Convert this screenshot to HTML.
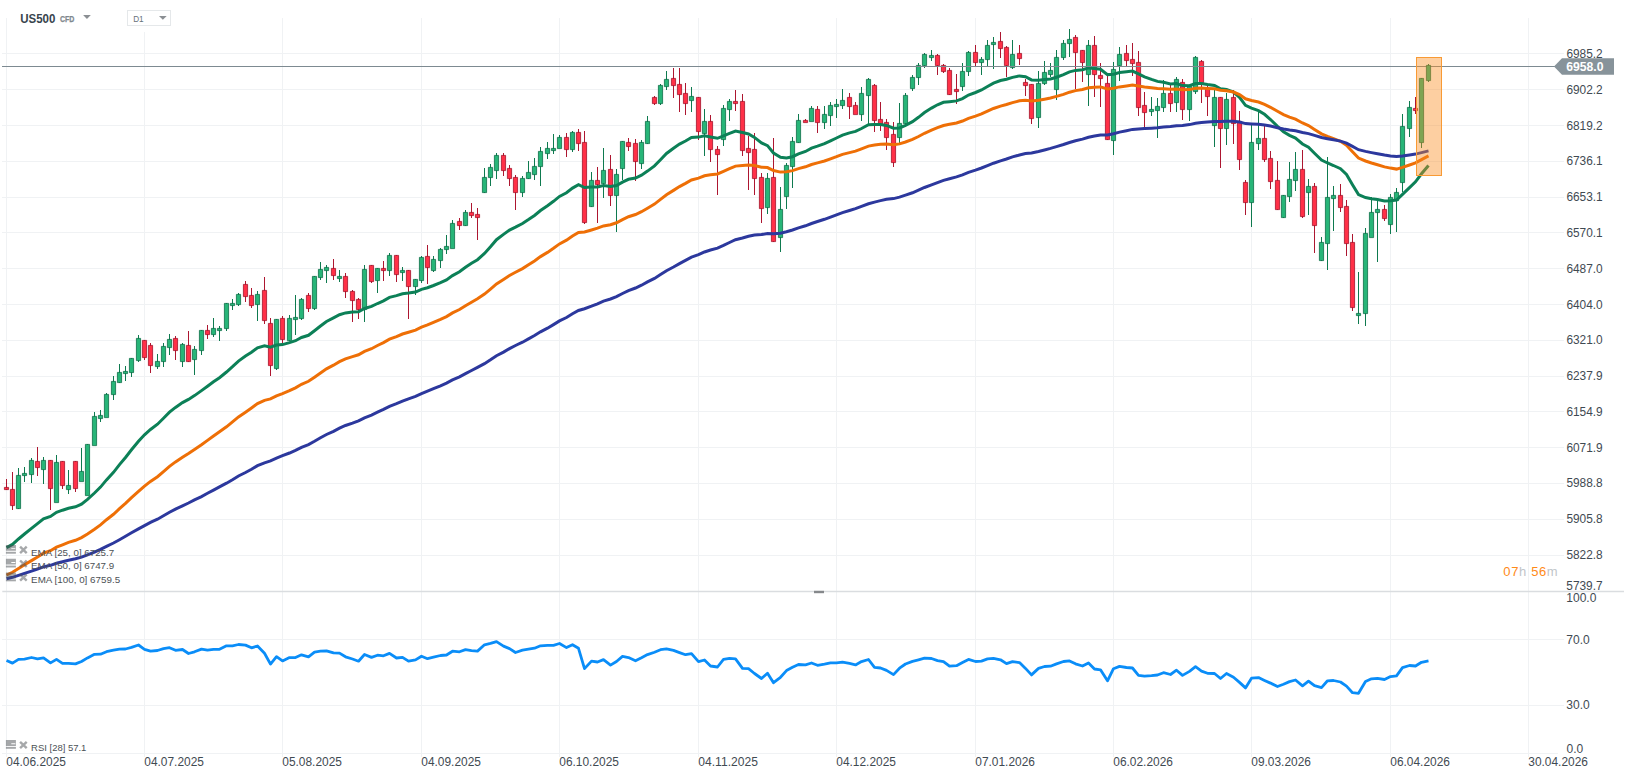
<!DOCTYPE html>
<html lang="en"><head><meta charset="utf-8"><title>US500 CFD D1 chart</title>
<style>html,body{margin:0;padding:0;background:#fff}body{width:1626px;height:779px;position:relative;overflow:hidden;font-family:"Liberation Sans",sans-serif}</style></head>
<body>
<svg width="1626" height="779" viewBox="0 0 1626 779" style="position:absolute;left:0;top:0;font-family:'Liberation Sans',sans-serif">
<path d="M2 53.5H1564M2 89.5H1564M2 125.5H1564M2 161.5H1564M2 197.5H1564M2 232.5H1564M2 268.5H1564M2 304.5H1564M2 340.5H1564M2 376.5H1564M2 411.5H1564M2 447.5H1564M2 483.5H1564M2 519.5H1564M2 555.5H1564M2 639.5H1564M2 705.5H1564M2 753.5H1558M6.5 18V757M144.5 32V757M282.5 18V757M421.5 18V757M559.5 18V757M698.5 18V757M836.5 18V757M975.5 18V757M1113.5 18V757M1251.5 18V757M1390.5 18V757M1528.5 18V757" stroke="#f0f2f4" stroke-width="1" fill="none" shape-rendering="crispEdges"/>
<path d="M2.3 591.5H1624" stroke="#dadde0" stroke-width="1.4" fill="none"/>
<rect x="814" y="590.8" width="10" height="2.4" fill="#85888b"/>
<path d="M18.5 468.0V509.0M24.5 467.0V482.0M31.5 458.0V483.0M43.5 457.0V484.0M56.5 455.0V502.0M68.5 470.0V494.0M81.5 448.0V481.0M87.5 444.0V495.0M94.5 412.0V445.0M100.5 410.0V422.0M106.5 393.0V417.0M113.5 376.0V400.0M119.5 364.0V383.0M125.5 366.0V381.0M131.5 358.0V377.0M138.5 335.0V362.0M157.5 354.0V369.0M163.5 343.0V367.0M169.5 334.0V355.0M182.5 343.0V367.0M194.5 346.0V375.0M201.5 330.0V355.0M213.5 318.0V337.0M219.5 326.0V341.0M226.5 303.0V331.0M232.5 299.0V310.0M238.5 293.0V306.0M257.5 291.0V321.0M276.5 319.0V370.0M289.5 315.0V341.0M295.5 295.0V335.0M301.5 298.0V320.0M314.5 276.0V310.0M320.5 262.0V280.0M326.5 265.0V283.0M339.5 270.0V282.0M364.5 265.0V322.0M377.5 268.0V293.0M389.5 253.0V276.0M402.5 267.0V281.0M415.5 279.0V295.0M421.5 256.0V283.0M433.5 256.0V272.0M440.5 248.0V268.0M446.5 235.0V254.0M452.5 220.0V248.0M465.5 210.0V226.0M484.5 168.0V193.0M490.5 164.0V186.0M496.5 153.0V179.0M522.5 176.0V197.0M528.5 161.0V179.0M534.5 158.0V180.0M540.5 147.0V186.0M547.5 142.0V159.0M553.5 134.0V154.0M559.5 135.0V148.0M572.5 131.0V152.0M591.5 172.0V207.0M603.5 148.0V198.0M616.5 169.0V232.0M622.5 141.0V180.0M641.5 140.0V169.0M647.5 116.0V144.0M660.5 84.0V105.0M666.5 71.0V90.0M691.5 87.0V112.0M704.5 109.0V156.0M723.5 105.0V146.0M729.5 99.0V121.0M767.5 173.0V214.0M780.5 187.0V252.0M786.5 163.0V209.0M792.5 137.0V188.0M798.5 114.0V143.0M811.5 106.0V121.0M824.5 106.0V129.0M830.5 102.0V126.0M836.5 99.0V118.0M842.5 89.0V109.0M861.5 87.0V121.0M868.5 78.0V124.0M899.5 103.0V145.0M905.5 93.0V124.0M912.5 75.0V91.0M918.5 63.0V85.0M924.5 53.0V68.0M931.5 50.0V61.0M962.5 63.0V91.0M968.5 51.0V76.0M981.5 57.0V75.0M987.5 40.0V66.0M993.5 37.0V69.0M1012.5 40.0V69.0M1038.5 71.0V128.0M1044.5 61.0V85.0M1050.5 63.0V77.0M1056.5 50.0V100.0M1063.5 40.0V60.0M1069.5 29.0V57.0M1088.5 40.0V106.0M1113.5 62.0V155.0M1119.5 47.0V81.0M1151.5 97.0V116.0M1157.5 98.0V138.0M1163.5 80.0V112.0M1176.5 77.0V112.0M1189.5 85.0V121.0M1195.5 56.0V94.0M1214.5 90.0V147.0M1226.5 93.0V145.0M1251.5 125.0V227.0M1258.5 112.0V150.0M1283.5 195.0V218.0M1289.5 162.0V202.0M1295.5 152.0V191.0M1308.5 179.0V215.0M1321.5 237.0V261.0M1327.5 157.0V270.0M1333.5 186.0V231.0M1358.5 272.0V324.0M1365.5 228.0V326.0M1371.5 197.0V237.0M1377.5 201.0V262.0M1390.5 194.0V234.0M1396.5 188.0V232.0M1402.5 114.0V192.0M1409.5 101.0V137.0" stroke="#0e7a4f" stroke-width="1" fill="none"/>
<path d="M6.5 479.0V490.0M12.5 472.0V510.0M37.5 447.0V476.0M50.5 460.0V510.0M62.5 461.0V489.0M75.5 461.0V492.0M144.5 340.0V360.0M150.5 343.0V373.0M175.5 336.0V360.0M188.5 331.0V362.0M207.5 325.0V339.0M245.5 281.0V302.0M251.5 288.0V308.0M264.5 277.0V324.0M270.5 318.0V376.0M282.5 316.0V343.0M308.5 293.0V312.0M333.5 259.0V280.0M345.5 273.0V298.0M352.5 290.0V322.0M358.5 298.0V319.0M371.5 265.0V283.0M383.5 261.0V281.0M396.5 255.0V282.0M408.5 270.0V319.0M427.5 245.0V284.0M459.5 218.0V230.0M471.5 203.0V218.0M477.5 208.0V240.0M503.5 153.0V176.0M509.5 165.0V186.0M515.5 175.0V210.0M566.5 133.0V157.0M578.5 129.0V151.0M584.5 131.0V224.0M597.5 167.0V223.0M610.5 155.0V206.0M628.5 138.0V151.0M635.5 139.0V181.0M654.5 96.0V105.0M673.5 68.0V98.0M679.5 68.0V112.0M685.5 83.0V115.0M698.5 97.0V140.0M710.5 115.0V162.0M717.5 146.0V195.0M735.5 90.0V111.0M742.5 94.0V156.0M748.5 136.0V190.0M754.5 133.0V195.0M761.5 173.0V223.0M773.5 138.0V242.0M805.5 119.0V122.0M817.5 106.0V133.0M849.5 93.0V119.0M855.5 102.0V114.0M874.5 84.0V132.0M880.5 102.0V131.0M886.5 119.0V150.0M893.5 122.0V167.0M937.5 54.0V75.0M943.5 64.0V73.0M949.5 68.0V95.0M956.5 74.0V104.0M975.5 45.0V66.0M1000.5 32.0V58.0M1006.5 46.0V77.0M1019.5 45.0V65.0M1025.5 79.0V96.0M1031.5 84.0V124.0M1075.5 35.0V89.0M1082.5 50.0V82.0M1094.5 36.0V97.0M1100.5 63.0V107.0M1107.5 75.0V140.0M1126.5 45.0V66.0M1132.5 43.0V76.0M1138.5 51.0V116.0M1144.5 92.0V128.0M1170.5 85.0V112.0M1182.5 79.0V120.0M1201.5 60.0V103.0M1207.5 84.0V116.0M1220.5 97.0V168.0M1233.5 90.0V144.0M1239.5 111.0V170.0M1245.5 180.0V215.0M1264.5 126.0V162.0M1270.5 151.0V189.0M1277.5 161.0V210.0M1302.5 150.0V218.0M1314.5 183.0V253.0M1340.5 184.0V212.0M1346.5 200.0V256.0M1352.5 234.0V311.0M1384.5 205.0V221.0M1415.5 97.0V114.0" stroke="#ad1630" stroke-width="1" fill="none"/>
<path d="M16.4 475.4h4.2V508.6h-4.2zM22.4 473.4h4.2V475.6h-4.2zM29.4 460.4h4.2V474.6h-4.2zM41.4 460.4h4.2V469.6h-4.2zM54.4 462.4h4.2V502.6h-4.2zM66.4 485.4h4.2V489.6h-4.2zM79.4 471.4h4.2V481.6h-4.2zM85.4 444.4h4.2V495.6h-4.2zM92.4 416.4h4.2V445.6h-4.2zM98.4 415.4h4.2V418.6h-4.2zM104.4 394.4h4.2V417.6h-4.2zM111.4 381.4h4.2V394.6h-4.2zM117.4 372.4h4.2V382.6h-4.2zM123.4 371.4h4.2V373.6h-4.2zM129.4 358.4h4.2V372.6h-4.2zM136.4 338.4h4.2V360.6h-4.2zM155.4 361.4h4.2V366.6h-4.2zM161.4 346.4h4.2V361.6h-4.2zM167.4 339.4h4.2V347.6h-4.2zM180.4 344.4h4.2V361.6h-4.2zM192.4 349.4h4.2V359.6h-4.2zM199.4 330.4h4.2V350.6h-4.2zM211.4 328.4h4.2V334.6h-4.2zM217.4 328.4h4.2V330.6h-4.2zM224.4 303.4h4.2V328.6h-4.2zM230.4 303.4h4.2V305.6h-4.2zM236.4 294.4h4.2V304.6h-4.2zM255.4 294.4h4.2V304.6h-4.2zM274.4 319.4h4.2V368.6h-4.2zM287.4 318.4h4.2V340.6h-4.2zM293.4 317.4h4.2V319.6h-4.2zM299.4 299.4h4.2V318.6h-4.2zM312.4 276.4h4.2V308.6h-4.2zM318.4 269.4h4.2V277.6h-4.2zM324.4 267.4h4.2V270.6h-4.2zM337.4 276.4h4.2V278.6h-4.2zM362.4 269.4h4.2V309.6h-4.2zM375.4 268.4h4.2V280.6h-4.2zM387.4 255.4h4.2V270.6h-4.2zM400.4 270.4h4.2V272.6h-4.2zM413.4 279.4h4.2V286.6h-4.2zM419.4 257.4h4.2V280.6h-4.2zM431.4 259.4h4.2V270.6h-4.2zM438.4 249.4h4.2V260.6h-4.2zM444.4 246.4h4.2V249.6h-4.2zM450.4 223.4h4.2V248.6h-4.2zM463.4 212.4h4.2V225.6h-4.2zM482.4 177.4h4.2V192.6h-4.2zM488.4 167.4h4.2V177.6h-4.2zM494.4 155.4h4.2V170.6h-4.2zM520.4 178.4h4.2V192.6h-4.2zM526.4 172.4h4.2V178.6h-4.2zM532.4 166.4h4.2V174.6h-4.2zM538.4 151.4h4.2V166.6h-4.2zM545.4 148.4h4.2V153.6h-4.2zM551.4 148.4h4.2V150.6h-4.2zM557.4 137.4h4.2V148.6h-4.2zM570.4 132.4h4.2V149.6h-4.2zM589.4 180.4h4.2V206.6h-4.2zM601.4 170.4h4.2V183.6h-4.2zM614.4 174.4h4.2V195.6h-4.2zM620.4 141.4h4.2V168.6h-4.2zM639.4 142.4h4.2V163.6h-4.2zM645.4 121.4h4.2V143.6h-4.2zM658.4 85.4h4.2V103.6h-4.2zM664.4 79.4h4.2V86.6h-4.2zM689.4 96.4h4.2V100.6h-4.2zM702.4 121.4h4.2V133.6h-4.2zM721.4 108.4h4.2V139.6h-4.2zM727.4 101.4h4.2V109.6h-4.2zM765.4 178.4h4.2V207.6h-4.2zM778.4 209.4h4.2V237.6h-4.2zM784.4 165.4h4.2V196.6h-4.2zM790.4 141.4h4.2V166.6h-4.2zM796.4 120.4h4.2V142.6h-4.2zM809.4 108.4h4.2V121.6h-4.2zM822.4 114.4h4.2V122.6h-4.2zM828.4 105.4h4.2V115.6h-4.2zM834.4 104.4h4.2V106.6h-4.2zM840.4 100.4h4.2V105.6h-4.2zM859.4 93.4h4.2V114.6h-4.2zM866.4 79.4h4.2V95.6h-4.2zM897.4 123.4h4.2V137.6h-4.2zM903.4 95.4h4.2V123.6h-4.2zM910.4 77.4h4.2V88.6h-4.2zM916.4 65.4h4.2V77.6h-4.2zM922.4 54.4h4.2V65.6h-4.2zM929.4 55.4h4.2V57.6h-4.2zM960.4 71.4h4.2V86.6h-4.2zM966.4 52.4h4.2V71.6h-4.2zM979.4 59.4h4.2V62.6h-4.2zM985.4 45.4h4.2V59.6h-4.2zM991.4 42.4h4.2V44.6h-4.2zM1010.4 54.4h4.2V67.6h-4.2zM1036.4 83.4h4.2V117.6h-4.2zM1042.4 72.4h4.2V83.6h-4.2zM1048.4 70.4h4.2V74.6h-4.2zM1054.4 57.4h4.2V89.6h-4.2zM1061.4 43.4h4.2V57.6h-4.2zM1067.4 39.4h4.2V43.6h-4.2zM1086.4 45.4h4.2V74.6h-4.2zM1111.4 69.4h4.2V140.6h-4.2zM1117.4 54.4h4.2V65.6h-4.2zM1149.4 109.4h4.2V111.6h-4.2zM1155.4 106.4h4.2V110.6h-4.2zM1161.4 93.4h4.2V107.6h-4.2zM1174.4 79.4h4.2V102.6h-4.2zM1187.4 86.4h4.2V109.6h-4.2zM1193.4 57.4h4.2V91.6h-4.2zM1212.4 97.4h4.2V125.6h-4.2zM1224.4 99.4h4.2V128.6h-4.2zM1249.4 142.4h4.2V202.6h-4.2zM1256.4 138.4h4.2V143.6h-4.2zM1281.4 195.4h4.2V217.6h-4.2zM1287.4 179.4h4.2V196.6h-4.2zM1293.4 169.4h4.2V180.6h-4.2zM1306.4 186.4h4.2V192.6h-4.2zM1319.4 242.4h4.2V260.6h-4.2zM1325.4 197.4h4.2V243.6h-4.2zM1331.4 195.4h4.2V198.6h-4.2zM1356.4 313.4h4.2V315.6h-4.2zM1363.4 233.4h4.2V313.6h-4.2zM1369.4 212.4h4.2V237.6h-4.2zM1375.4 209.4h4.2V212.6h-4.2zM1388.4 197.4h4.2V224.6h-4.2zM1394.4 192.4h4.2V200.6h-4.2zM1400.4 126.4h4.2V182.6h-4.2zM1407.4 107.4h4.2V128.6h-4.2z" stroke="#0c6f47" stroke-width="0.8" fill="#27b578"/>
<path d="M4.4 487.4h4.2V489.6h-4.2zM10.4 489.4h4.2V505.6h-4.2zM35.4 461.4h4.2V467.6h-4.2zM48.4 460.4h4.2V488.6h-4.2zM60.4 461.4h4.2V485.6h-4.2zM73.4 461.4h4.2V488.6h-4.2zM142.4 340.4h4.2V357.6h-4.2zM148.4 345.4h4.2V365.6h-4.2zM173.4 338.4h4.2V350.6h-4.2zM186.4 345.4h4.2V361.6h-4.2zM205.4 330.4h4.2V334.6h-4.2zM243.4 284.4h4.2V296.6h-4.2zM249.4 295.4h4.2V305.6h-4.2zM262.4 290.4h4.2V320.6h-4.2zM268.4 323.4h4.2V365.6h-4.2zM280.4 318.4h4.2V339.6h-4.2zM306.4 295.4h4.2V308.6h-4.2zM331.4 268.4h4.2V275.6h-4.2zM343.4 276.4h4.2V291.6h-4.2zM350.4 291.4h4.2V300.6h-4.2zM356.4 299.4h4.2V309.6h-4.2zM369.4 265.4h4.2V281.6h-4.2zM381.4 268.4h4.2V270.6h-4.2zM394.4 255.4h4.2V274.6h-4.2zM406.4 270.4h4.2V286.6h-4.2zM425.4 256.4h4.2V267.6h-4.2zM457.4 221.4h4.2V225.6h-4.2zM469.4 212.4h4.2V215.6h-4.2zM475.4 214.4h4.2V217.6h-4.2zM501.4 155.4h4.2V170.6h-4.2zM507.4 168.4h4.2V178.6h-4.2zM513.4 177.4h4.2V192.6h-4.2zM564.4 137.4h4.2V149.6h-4.2zM576.4 132.4h4.2V143.6h-4.2zM582.4 142.4h4.2V222.6h-4.2zM595.4 180.4h4.2V184.6h-4.2zM608.4 169.4h4.2V195.6h-4.2zM626.4 142.4h4.2V146.6h-4.2zM633.4 143.4h4.2V161.6h-4.2zM652.4 97.4h4.2V103.6h-4.2zM671.4 78.4h4.2V85.6h-4.2zM677.4 84.4h4.2V94.6h-4.2zM683.4 93.4h4.2V103.6h-4.2zM696.4 97.4h4.2V131.6h-4.2zM708.4 121.4h4.2V149.6h-4.2zM715.4 149.4h4.2V154.6h-4.2zM733.4 101.4h4.2V103.6h-4.2zM740.4 101.4h4.2V150.6h-4.2zM746.4 148.4h4.2V152.6h-4.2zM752.4 149.4h4.2V178.6h-4.2zM759.4 177.4h4.2V208.6h-4.2zM771.4 177.4h4.2V241.6h-4.2zM803.4 120.4h4.2V122.6h-4.2zM815.4 109.4h4.2V122.6h-4.2zM847.4 97.4h4.2V106.6h-4.2zM853.4 105.4h4.2V114.6h-4.2zM872.4 85.4h4.2V120.6h-4.2zM878.4 119.4h4.2V124.6h-4.2zM884.4 122.4h4.2V137.6h-4.2zM891.4 134.4h4.2V162.6h-4.2zM935.4 55.4h4.2V65.6h-4.2zM941.4 65.4h4.2V71.6h-4.2zM947.4 70.4h4.2V94.6h-4.2zM954.4 89.4h4.2V91.6h-4.2zM973.4 52.4h4.2V62.6h-4.2zM998.4 41.4h4.2V48.6h-4.2zM1004.4 47.4h4.2V65.6h-4.2zM1017.4 53.4h4.2V58.6h-4.2zM1023.4 82.4h4.2V85.6h-4.2zM1029.4 84.4h4.2V118.6h-4.2zM1073.4 37.4h4.2V52.6h-4.2zM1080.4 50.4h4.2V62.6h-4.2zM1092.4 45.4h4.2V74.6h-4.2zM1098.4 75.4h4.2V78.6h-4.2zM1105.4 83.4h4.2V139.6h-4.2zM1124.4 53.4h4.2V60.6h-4.2zM1130.4 59.4h4.2V63.6h-4.2zM1136.4 62.4h4.2V107.6h-4.2zM1142.4 105.4h4.2V112.6h-4.2zM1168.4 93.4h4.2V103.6h-4.2zM1180.4 82.4h4.2V109.6h-4.2zM1199.4 61.4h4.2V82.6h-4.2zM1205.4 88.4h4.2V96.6h-4.2zM1218.4 97.4h4.2V128.6h-4.2zM1231.4 97.4h4.2V123.6h-4.2zM1237.4 121.4h4.2V159.6h-4.2zM1243.4 182.4h4.2V202.6h-4.2zM1262.4 138.4h4.2V159.6h-4.2zM1268.4 158.4h4.2V181.6h-4.2zM1275.4 180.4h4.2V209.6h-4.2zM1300.4 169.4h4.2V216.6h-4.2zM1312.4 186.4h4.2V225.6h-4.2zM1338.4 195.4h4.2V207.6h-4.2zM1344.4 206.4h4.2V243.6h-4.2zM1350.4 242.4h4.2V307.6h-4.2zM1382.4 209.4h4.2V218.6h-4.2zM1413.4 108.4h4.2V110.6h-4.2z" stroke="#a3122a" stroke-width="0.8" fill="#ff3047"/>
<path d="M6.5 547.6L12.5 544.4L18.5 539.0L24.5 534.0L31.5 528.3L37.5 523.6L43.5 518.8L50.5 516.4L56.5 512.3L62.5 510.2L68.5 508.3L75.5 506.8L81.5 504.1L87.5 499.4L94.5 493.0L100.5 487.1L106.5 479.9L113.5 472.3L119.5 464.6L125.5 457.5L131.5 449.8L138.5 441.3L144.5 434.8L150.5 429.5L157.5 424.2L163.5 418.3L169.5 412.2L175.5 407.4L182.5 402.6L188.5 399.4L194.5 395.6L201.5 390.6L207.5 386.2L213.5 381.8L219.5 377.7L226.5 372.0L232.5 366.7L238.5 361.1L245.5 356.1L251.5 352.3L257.5 347.8L264.5 345.7L270.5 347.2L276.5 345.1L282.5 344.6L289.5 342.6L295.5 340.7L301.5 337.5L308.5 335.3L314.5 330.7L320.5 326.0L326.5 321.5L333.5 317.9L339.5 314.7L345.5 312.9L352.5 312.0L358.5 311.8L364.5 308.5L371.5 306.4L377.5 303.5L383.5 300.9L389.5 297.4L396.5 295.6L402.5 293.7L408.5 293.1L415.5 292.1L421.5 289.4L427.5 287.7L433.5 285.5L440.5 282.7L446.5 279.9L452.5 275.6L459.5 271.7L465.5 267.2L471.5 263.2L477.5 259.7L484.5 253.4L490.5 246.8L496.5 239.7L503.5 234.4L509.5 230.1L515.5 227.2L522.5 223.5L528.5 219.6L534.5 215.5L540.5 210.5L547.5 205.8L553.5 201.3L559.5 196.4L566.5 192.8L572.5 188.1L578.5 184.7L584.5 187.6L591.5 187.1L597.5 186.9L603.5 185.6L610.5 186.4L616.5 185.5L622.5 182.1L628.5 179.3L635.5 178.0L641.5 175.2L647.5 171.1L654.5 165.9L660.5 159.7L666.5 153.5L673.5 148.2L679.5 144.1L685.5 141.0L691.5 137.5L698.5 137.1L704.5 135.8L710.5 136.9L717.5 138.3L723.5 135.9L729.5 133.3L735.5 131.0L742.5 132.5L748.5 134.0L754.5 137.4L761.5 142.9L767.5 145.6L773.5 153.0L780.5 157.3L786.5 157.9L792.5 156.7L798.5 153.9L805.5 151.5L811.5 148.1L817.5 146.2L824.5 143.7L830.5 140.8L836.5 138.0L842.5 135.1L849.5 132.9L855.5 131.4L861.5 128.5L868.5 124.7L874.5 124.4L880.5 124.4L886.5 125.4L893.5 128.2L899.5 127.9L905.5 125.4L912.5 121.7L918.5 117.3L924.5 112.5L931.5 108.1L937.5 104.8L943.5 102.3L949.5 101.7L956.5 100.9L962.5 98.6L968.5 95.0L975.5 92.5L981.5 90.0L987.5 86.5L993.5 83.1L1000.5 80.5L1006.5 79.3L1012.5 77.4L1019.5 75.9L1025.5 76.7L1031.5 79.9L1038.5 80.2L1044.5 79.6L1050.5 78.9L1056.5 77.2L1063.5 74.6L1069.5 71.9L1075.5 70.4L1082.5 69.8L1088.5 67.9L1094.5 68.4L1100.5 69.2L1107.5 74.6L1113.5 74.2L1119.5 72.6L1126.5 71.7L1132.5 71.1L1138.5 73.9L1144.5 76.8L1151.5 79.4L1157.5 81.4L1163.5 82.3L1170.5 84.0L1176.5 83.6L1182.5 85.6L1189.5 85.7L1195.5 83.5L1201.5 83.4L1207.5 84.4L1214.5 85.4L1220.5 88.7L1226.5 89.5L1233.5 92.1L1239.5 97.3L1245.5 105.4L1251.5 108.2L1258.5 110.6L1264.5 114.3L1270.5 119.5L1277.5 126.4L1283.5 131.7L1289.5 135.4L1295.5 138.0L1302.5 144.0L1308.5 147.3L1314.5 153.3L1321.5 160.1L1327.5 163.0L1333.5 165.5L1340.5 168.7L1346.5 174.5L1352.5 184.7L1358.5 194.6L1365.5 197.6L1371.5 198.7L1377.5 199.6L1384.5 201.0L1390.5 200.7L1396.5 200.1L1402.5 194.4L1409.5 187.7L1415.5 181.8L1421.5 173.8L1428.5 165.5" stroke="#0c8057" stroke-width="3" fill="none" stroke-linejoin="miter"/>
<path d="M6.5 575.0L12.5 572.3L18.5 568.5L24.5 564.7L31.5 560.6L37.5 557.0L43.5 553.2L50.5 550.7L56.5 547.2L62.5 544.8L68.5 542.4L75.5 540.3L81.5 537.6L87.5 534.0L94.5 529.3L100.5 524.9L106.5 519.7L113.5 514.3L119.5 508.7L125.5 503.4L131.5 497.7L138.5 491.4L144.5 486.2L150.5 481.4L157.5 476.7L163.5 471.6L169.5 466.4L175.5 461.9L182.5 457.3L188.5 453.5L194.5 449.4L201.5 444.8L207.5 440.4L213.5 436.0L219.5 431.8L226.5 426.8L232.5 421.9L238.5 416.9L245.5 412.2L251.5 408.0L257.5 403.6L264.5 400.3L270.5 398.9L276.5 395.8L282.5 393.6L289.5 390.7L295.5 387.8L301.5 384.3L308.5 381.3L314.5 377.2L320.5 373.0L326.5 368.8L333.5 365.2L339.5 361.7L345.5 358.9L352.5 356.6L358.5 354.8L364.5 351.4L371.5 348.7L377.5 345.5L383.5 342.6L389.5 339.2L396.5 336.6L402.5 334.0L408.5 332.2L415.5 330.1L421.5 327.2L427.5 324.9L433.5 322.3L440.5 319.4L446.5 316.6L452.5 312.9L459.5 309.5L465.5 305.7L471.5 302.2L477.5 298.8L484.5 294.1L490.5 289.1L496.5 283.9L503.5 279.4L509.5 275.5L515.5 272.2L522.5 268.6L528.5 264.8L534.5 260.9L540.5 256.6L547.5 252.4L553.5 248.3L559.5 243.9L566.5 240.2L572.5 236.0L578.5 232.4L584.5 232.0L591.5 230.0L597.5 228.2L603.5 225.9L610.5 224.7L616.5 222.8L622.5 219.6L628.5 216.7L635.5 214.5L641.5 211.7L647.5 208.2L654.5 204.1L660.5 199.4L666.5 194.7L673.5 190.4L679.5 186.6L685.5 183.4L691.5 180.0L698.5 178.1L704.5 175.8L710.5 174.8L717.5 174.0L723.5 171.4L729.5 168.7L735.5 166.1L742.5 165.5L748.5 165.0L754.5 165.5L761.5 167.2L767.5 167.6L773.5 170.5L780.5 172.1L786.5 171.8L792.5 170.6L798.5 168.6L805.5 166.8L811.5 164.5L817.5 162.9L824.5 161.0L830.5 158.8L836.5 156.7L842.5 154.4L849.5 152.6L855.5 151.1L861.5 148.8L868.5 146.1L874.5 145.1L880.5 144.3L886.5 144.0L893.5 144.7L899.5 143.9L905.5 142.0L912.5 139.4L918.5 136.5L924.5 133.3L931.5 130.2L937.5 127.7L943.5 125.5L949.5 124.3L956.5 123.0L962.5 121.0L968.5 118.3L975.5 116.1L981.5 113.9L987.5 111.2L993.5 108.5L1000.5 106.1L1006.5 104.5L1012.5 102.6L1019.5 100.8L1025.5 100.2L1031.5 100.9L1038.5 100.3L1044.5 99.2L1050.5 98.0L1056.5 96.4L1063.5 94.4L1069.5 92.2L1075.5 90.6L1082.5 89.5L1088.5 87.8L1094.5 87.3L1100.5 86.9L1107.5 89.0L1113.5 88.2L1119.5 86.9L1126.5 85.9L1132.5 85.0L1138.5 85.9L1144.5 86.9L1151.5 87.8L1157.5 88.5L1163.5 88.7L1170.5 89.3L1176.5 88.9L1182.5 89.7L1189.5 89.6L1195.5 88.3L1201.5 88.1L1207.5 88.4L1214.5 88.8L1220.5 90.3L1226.5 90.7L1233.5 92.0L1239.5 94.6L1245.5 98.8L1251.5 100.5L1258.5 102.0L1264.5 104.3L1270.5 107.3L1277.5 111.3L1283.5 114.6L1289.5 117.1L1295.5 119.2L1302.5 123.0L1308.5 125.5L1314.5 129.4L1321.5 133.8L1327.5 136.3L1333.5 138.6L1340.5 141.3L1346.5 145.3L1352.5 151.7L1358.5 158.1L1365.5 161.0L1371.5 163.0L1377.5 164.8L1384.5 166.9L1390.5 168.1L1396.5 169.1L1402.5 167.4L1409.5 165.0L1415.5 162.9L1421.5 159.6L1428.5 155.9" stroke="#ee6f06" stroke-width="3" fill="none" stroke-linejoin="miter"/>
<path d="M6.5 578.8L12.5 577.3L18.5 575.3L24.5 573.3L31.5 571.1L37.5 569.0L43.5 566.9L50.5 565.3L56.5 563.3L62.5 561.7L68.5 560.2L75.5 558.8L81.5 557.1L87.5 554.8L94.5 552.1L100.5 549.4L106.5 546.3L113.5 543.0L119.5 539.7L125.5 536.3L131.5 532.8L138.5 528.9L144.5 525.6L150.5 522.4L157.5 519.2L163.5 515.8L169.5 512.3L175.5 509.1L182.5 505.8L188.5 503.0L194.5 499.9L201.5 496.6L207.5 493.3L213.5 490.1L219.5 486.9L226.5 483.2L232.5 479.7L238.5 476.0L245.5 472.5L251.5 469.2L257.5 465.7L264.5 462.8L270.5 460.9L276.5 458.1L282.5 455.7L289.5 453.0L295.5 450.3L301.5 447.3L308.5 444.6L314.5 441.3L320.5 437.8L326.5 434.5L333.5 431.3L339.5 428.2L345.5 425.5L352.5 423.1L358.5 420.8L364.5 417.8L371.5 415.1L377.5 412.2L383.5 409.4L389.5 406.3L396.5 403.7L402.5 401.1L408.5 398.8L415.5 396.4L421.5 393.7L427.5 391.2L433.5 388.6L440.5 385.8L446.5 383.1L452.5 379.9L459.5 376.8L465.5 373.6L471.5 370.5L477.5 367.4L484.5 363.7L490.5 359.8L496.5 355.7L503.5 352.1L509.5 348.6L515.5 345.5L522.5 342.2L528.5 338.9L534.5 335.5L540.5 331.8L547.5 328.2L553.5 324.6L559.5 320.9L566.5 317.5L572.5 313.8L578.5 310.5L584.5 308.7L591.5 306.2L597.5 303.8L603.5 301.1L610.5 299.0L616.5 296.6L622.5 293.5L628.5 290.6L635.5 288.0L641.5 285.2L647.5 281.9L654.5 278.4L660.5 274.6L666.5 270.7L673.5 267.0L679.5 263.6L685.5 260.4L691.5 257.2L698.5 254.7L704.5 252.0L710.5 250.0L717.5 248.1L723.5 245.4L729.5 242.5L735.5 239.7L742.5 238.0L748.5 236.3L754.5 235.1L761.5 234.6L767.5 233.5L773.5 233.7L780.5 233.2L786.5 231.8L792.5 230.0L798.5 227.9L805.5 225.8L811.5 223.5L817.5 221.5L824.5 219.3L830.5 217.1L836.5 214.8L842.5 212.6L849.5 210.5L855.5 208.6L861.5 206.3L868.5 203.8L874.5 202.1L880.5 200.6L886.5 199.3L893.5 198.6L899.5 197.1L905.5 195.1L912.5 192.8L918.5 190.2L924.5 187.5L931.5 184.9L937.5 182.6L943.5 180.4L949.5 178.7L956.5 176.9L962.5 174.9L968.5 172.4L975.5 170.2L981.5 168.0L987.5 165.6L993.5 163.2L1000.5 160.9L1006.5 159.0L1012.5 156.9L1019.5 155.0L1025.5 153.6L1031.5 152.9L1038.5 151.5L1044.5 150.0L1050.5 148.4L1056.5 146.6L1063.5 144.5L1069.5 142.5L1075.5 140.7L1082.5 139.1L1088.5 137.3L1094.5 136.0L1100.5 134.9L1107.5 135.0L1113.5 133.7L1119.5 132.1L1126.5 130.7L1132.5 129.4L1138.5 128.9L1144.5 128.6L1151.5 128.2L1157.5 127.8L1163.5 127.1L1170.5 126.6L1176.5 125.7L1182.5 125.4L1189.5 124.6L1195.5 123.3L1201.5 122.5L1207.5 122.0L1214.5 121.5L1220.5 121.6L1226.5 121.2L1233.5 121.2L1239.5 122.0L1245.5 123.6L1251.5 123.9L1258.5 124.2L1264.5 124.9L1270.5 126.0L1277.5 127.7L1283.5 129.0L1289.5 130.0L1295.5 130.8L1302.5 132.5L1308.5 133.6L1314.5 135.4L1321.5 137.5L1327.5 138.7L1333.5 139.8L1340.5 141.1L1346.5 143.2L1352.5 146.4L1358.5 149.7L1365.5 151.4L1371.5 152.6L1377.5 153.7L1384.5 155.0L1390.5 155.9L1396.5 156.6L1402.5 156.0L1409.5 155.0L1415.5 154.1L1421.5 152.6L1428.5 150.9" stroke="#2c389d" stroke-width="3" fill="none" stroke-linejoin="miter"/>
<path d="M2 66.5H1556" stroke="#7d8a91" stroke-width="1" shape-rendering="crispEdges"/>
<path d="M1421.5 78.0V148.0" stroke="#0e7a4f" stroke-width="1"/>
<path d="M1419.4 78.4h4.2V142.6h-4.2z" stroke="#0c6f47" stroke-width="0.8" fill="#27b578"/>
<path d="M1428.5 64.0V82.0" stroke="#0e7a4f" stroke-width="1"/>
<path d="M1426.4 65.4h4.2V80.6h-4.2z" stroke="#0c6f47" stroke-width="0.8" fill="#27b578"/>
<rect x="1416.5" y="57.5" width="25" height="118" fill="#fb8c1e" fill-opacity="0.42" stroke="#f89a34" stroke-width="1"/>
<path d="M6.5 660.5L12.5 663.1L18.5 659.4L24.5 659.1L31.5 657.5L37.5 658.8L43.5 657.9L50.5 662.9L56.5 659.4L62.5 663.4L68.5 663.4L75.5 663.9L81.5 661.5L87.5 657.9L94.5 654.3L100.5 654.2L106.5 651.7L113.5 650.1L119.5 649.1L125.5 649.0L131.5 647.4L138.5 645.0L144.5 649.3L150.5 651.1L157.5 650.5L163.5 648.6L169.5 647.7L175.5 650.3L182.5 649.5L188.5 653.5L194.5 651.8L201.5 649.1L207.5 650.2L213.5 649.3L219.5 649.3L226.5 645.8L232.5 645.8L238.5 644.5L245.5 645.1L251.5 647.8L257.5 646.0L264.5 653.3L270.5 664.1L276.5 656.6L282.5 660.9L289.5 657.6L295.5 657.5L301.5 654.8L308.5 656.9L314.5 652.1L320.5 651.2L326.5 650.9L333.5 652.9L339.5 653.1L345.5 656.8L352.5 659.0L358.5 661.2L364.5 654.5L371.5 657.4L377.5 655.2L383.5 655.8L389.5 653.4L396.5 658.0L402.5 657.3L408.5 661.2L415.5 659.9L421.5 656.2L427.5 658.7L433.5 657.2L440.5 655.5L446.5 655.0L452.5 651.2L459.5 651.8L465.5 649.6L471.5 650.6L477.5 651.1L484.5 644.8L490.5 643.4L496.5 641.6L503.5 646.1L509.5 648.6L515.5 652.5L522.5 650.2L528.5 649.2L534.5 648.2L540.5 645.8L547.5 645.3L553.5 645.3L559.5 643.5L566.5 647.6L572.5 644.7L578.5 648.3L584.5 668.6L591.5 661.1L597.5 662.0L603.5 659.6L610.5 665.1L616.5 661.5L622.5 656.4L628.5 657.6L635.5 660.8L641.5 657.8L647.5 654.6L654.5 652.2L660.5 649.7L666.5 648.9L673.5 650.4L679.5 652.6L685.5 654.7L691.5 653.6L698.5 661.7L704.5 660.0L710.5 666.0L717.5 667.0L723.5 659.4L729.5 658.4L735.5 658.8L742.5 668.3L748.5 668.7L754.5 673.5L761.5 678.5L767.5 673.2L773.5 682.7L780.5 677.3L786.5 670.6L792.5 667.3L798.5 664.5L805.5 664.9L811.5 663.0L817.5 665.3L824.5 664.2L830.5 662.9L836.5 662.8L842.5 662.2L849.5 663.3L855.5 664.9L861.5 661.6L868.5 659.5L874.5 667.3L880.5 668.0L886.5 670.4L893.5 674.6L899.5 668.2L905.5 664.0L912.5 661.4L918.5 659.8L924.5 658.2L931.5 658.5L937.5 660.6L943.5 661.7L949.5 666.2L956.5 665.7L962.5 662.4L968.5 659.4L975.5 661.5L981.5 661.1L987.5 658.9L993.5 658.4L1000.5 659.8L1006.5 663.6L1012.5 661.6L1019.5 662.6L1025.5 668.4L1031.5 674.9L1038.5 668.4L1044.5 666.5L1050.5 666.2L1056.5 663.9L1063.5 661.5L1069.5 660.9L1075.5 663.8L1082.5 666.0L1088.5 662.9L1094.5 669.0L1100.5 669.8L1107.5 680.8L1113.5 668.7L1119.5 666.4L1126.5 667.5L1132.5 668.0L1138.5 675.3L1144.5 676.1L1151.5 675.6L1157.5 675.0L1163.5 672.7L1170.5 674.5L1176.5 670.2L1182.5 675.4L1189.5 671.4L1195.5 666.7L1201.5 671.1L1207.5 673.3L1214.5 673.5L1220.5 678.5L1226.5 673.5L1233.5 677.2L1239.5 682.4L1245.5 687.9L1251.5 678.2L1258.5 677.6L1264.5 680.4L1270.5 683.1L1277.5 686.5L1283.5 684.2L1289.5 681.6L1295.5 680.0L1302.5 685.9L1308.5 681.1L1314.5 685.7L1321.5 687.6L1327.5 680.8L1333.5 680.5L1340.5 682.0L1346.5 686.1L1352.5 692.7L1358.5 693.3L1365.5 681.5L1371.5 678.8L1377.5 678.4L1384.5 679.5L1390.5 676.6L1396.5 675.9L1402.5 667.7L1409.5 665.5L1415.5 666.0L1421.5 662.3L1428.5 660.9" stroke="#0a8df8" stroke-width="2.8" fill="none" stroke-linejoin="round"/>
<path d="M1554 66.5L1562 58.2H1614V74.8H1562z" fill="#87939a"/>
<text x="1566.2" y="70.9" font-size="12.2" font-weight="bold" fill="#fff">6958.0</text>
<text x="1566.4" y="58.0" font-size="12" fill="#3f4a52" textLength="36.3" lengthAdjust="spacingAndGlyphs">6985.2</text>
<text x="1566.4" y="93.7" font-size="12" fill="#3f4a52" textLength="36.3" lengthAdjust="spacingAndGlyphs">6902.2</text>
<text x="1566.4" y="129.5" font-size="12" fill="#3f4a52" textLength="36.3" lengthAdjust="spacingAndGlyphs">6819.2</text>
<text x="1566.4" y="165.3" font-size="12" fill="#3f4a52" textLength="36.3" lengthAdjust="spacingAndGlyphs">6736.1</text>
<text x="1566.4" y="201.1" font-size="12" fill="#3f4a52" textLength="36.3" lengthAdjust="spacingAndGlyphs">6653.1</text>
<text x="1566.4" y="236.9" font-size="12" fill="#3f4a52" textLength="36.3" lengthAdjust="spacingAndGlyphs">6570.1</text>
<text x="1566.4" y="272.7" font-size="12" fill="#3f4a52" textLength="36.3" lengthAdjust="spacingAndGlyphs">6487.0</text>
<text x="1566.4" y="308.5" font-size="12" fill="#3f4a52" textLength="36.3" lengthAdjust="spacingAndGlyphs">6404.0</text>
<text x="1566.4" y="344.3" font-size="12" fill="#3f4a52" textLength="36.3" lengthAdjust="spacingAndGlyphs">6321.0</text>
<text x="1566.4" y="380.1" font-size="12" fill="#3f4a52" textLength="36.3" lengthAdjust="spacingAndGlyphs">6237.9</text>
<text x="1566.4" y="415.8" font-size="12" fill="#3f4a52" textLength="36.3" lengthAdjust="spacingAndGlyphs">6154.9</text>
<text x="1566.4" y="451.6" font-size="12" fill="#3f4a52" textLength="36.3" lengthAdjust="spacingAndGlyphs">6071.9</text>
<text x="1566.4" y="487.4" font-size="12" fill="#3f4a52" textLength="36.3" lengthAdjust="spacingAndGlyphs">5988.8</text>
<text x="1566.4" y="523.2" font-size="12" fill="#3f4a52" textLength="36.3" lengthAdjust="spacingAndGlyphs">5905.8</text>
<text x="1566.4" y="559.0" font-size="12" fill="#3f4a52" textLength="36.3" lengthAdjust="spacingAndGlyphs">5822.8</text>
<text x="1566.3" y="589.7" font-size="12" fill="#3f4a52" textLength="36.3" lengthAdjust="spacingAndGlyphs">5739.7</text>
<text x="1566.3" y="601.9" font-size="12" fill="#3f4a52">100.0</text>
<text x="1566.3" y="644.1" font-size="12" fill="#3f4a52">70.0</text>
<text x="1566.3" y="709.3" font-size="12" fill="#3f4a52">30.0</text>
<text x="1566.6" y="752.7" font-size="12" fill="#3f4a52">0.0</text>
<text x="6.3" y="765.9" font-size="12" fill="#3f4a52" textLength="59.6" lengthAdjust="spacingAndGlyphs">04.06.2025</text>
<text x="144.3" y="765.9" font-size="12" fill="#3f4a52" textLength="59.6" lengthAdjust="spacingAndGlyphs">04.07.2025</text>
<text x="282.3" y="765.9" font-size="12" fill="#3f4a52" textLength="59.6" lengthAdjust="spacingAndGlyphs">05.08.2025</text>
<text x="421.3" y="765.9" font-size="12" fill="#3f4a52" textLength="59.6" lengthAdjust="spacingAndGlyphs">04.09.2025</text>
<text x="559.3" y="765.9" font-size="12" fill="#3f4a52" textLength="59.6" lengthAdjust="spacingAndGlyphs">06.10.2025</text>
<text x="698.3" y="765.9" font-size="12" fill="#3f4a52" textLength="59.6" lengthAdjust="spacingAndGlyphs">04.11.2025</text>
<text x="836.3" y="765.9" font-size="12" fill="#3f4a52" textLength="59.6" lengthAdjust="spacingAndGlyphs">04.12.2025</text>
<text x="975.3" y="765.9" font-size="12" fill="#3f4a52" textLength="59.6" lengthAdjust="spacingAndGlyphs">07.01.2026</text>
<text x="1113.3" y="765.9" font-size="12" fill="#3f4a52" textLength="59.6" lengthAdjust="spacingAndGlyphs">06.02.2026</text>
<text x="1251.3" y="765.9" font-size="12" fill="#3f4a52" textLength="59.6" lengthAdjust="spacingAndGlyphs">09.03.2026</text>
<text x="1390.3" y="765.9" font-size="12" fill="#3f4a52" textLength="59.6" lengthAdjust="spacingAndGlyphs">06.04.2026</text>
<text x="1528.3" y="765.9" font-size="12" fill="#3f4a52" textLength="59.6" lengthAdjust="spacingAndGlyphs">30.04.2026</text>
<text x="1503.3" y="575.7" font-size="13" textLength="54.4" lengthAdjust="spacing"><tspan fill="#ff8a17">07</tspan><tspan fill="#bfc5c9">h</tspan><tspan fill="#ff8a17"> 56</tspan><tspan fill="#bfc5c9">m</tspan></text>
<g fill="#4d5256" opacity="0.5"><path d="M5.9 544.9h10v5.9h-10zM11.3 548.2v0.9h4v-0.9z" fill-rule="evenodd"/><rect x="5.9" y="551.8" width="10" height="1.9"/></g>
<path d="M20.1 546.7l6.6 6.4M26.7 546.7l-6.6 6.4" stroke="#4d5256" stroke-opacity="0.5" stroke-width="2.4" fill="none"/>
<text x="31.1" y="555.5" font-size="9" fill="#4c5155" textLength="83.1" lengthAdjust="spacingAndGlyphs">EMA [25, 0] 6725.7</text>
<g fill="#4d5256" opacity="0.5"><path d="M5.9 558.7h10v5.9h-10zM11.3 562.0v0.9h4v-0.9z" fill-rule="evenodd"/><rect x="5.9" y="565.6" width="10" height="1.9"/></g>
<path d="M20.1 560.5l6.6 6.4M26.7 560.5l-6.6 6.4" stroke="#4d5256" stroke-opacity="0.5" stroke-width="2.4" fill="none"/>
<text x="31.1" y="569.3" font-size="9" fill="#4c5155" textLength="83.1" lengthAdjust="spacingAndGlyphs">EMA [50, 0] 6747.9</text>
<g fill="#4d5256" opacity="0.5"><path d="M5.9 572.5h10v5.9h-10zM11.3 575.8v0.9h4v-0.9z" fill-rule="evenodd"/><rect x="5.9" y="579.4" width="10" height="1.9"/></g>
<path d="M20.1 574.3l6.6 6.4M26.7 574.3l-6.6 6.4" stroke="#4d5256" stroke-opacity="0.5" stroke-width="2.4" fill="none"/>
<text x="31.1" y="583.1" font-size="9" fill="#4c5155" textLength="89.0" lengthAdjust="spacingAndGlyphs">EMA [100, 0] 6759.5</text>
<g fill="#4d5256" opacity="0.5"><path d="M5.9 740.0h10v5.9h-10zM11.3 743.3v0.9h4v-0.9z" fill-rule="evenodd"/><rect x="5.9" y="746.9" width="10" height="1.9"/></g>
<path d="M20.1 741.8l6.6 6.4M26.7 741.8l-6.6 6.4" stroke="#4d5256" stroke-opacity="0.5" stroke-width="2.4" fill="none"/>
<text x="31.1" y="750.6" font-size="9" fill="#4c5155" textLength="55.3" lengthAdjust="spacingAndGlyphs">RSI [28] 57.1</text>
<text x="20.2" y="22.8" font-size="12.2" font-weight="bold" fill="#38444d" textLength="35.2" lengthAdjust="spacingAndGlyphs">US500</text>
<text x="59.9" y="22.1" font-size="8.4" font-weight="bold" fill="#7f888e" stroke="#7f888e" stroke-width="0.25" textLength="14.5" lengthAdjust="spacingAndGlyphs">CFD</text>
<path d="M83.1 15h7.7l-3.85 4.1z" fill="#8b8f93"/>
<rect x="127.5" y="10.5" width="43" height="15" fill="#fff" stroke="#e5e8ea" stroke-width="1"/>
<text x="133.2" y="22.1" font-size="9.6" fill="#68737b" textLength="10.5" lengthAdjust="spacingAndGlyphs">D1</text>
<path d="M159 16h7.7l-3.85 3.8z" fill="#8b8f93"/>
</svg>
</body></html>
